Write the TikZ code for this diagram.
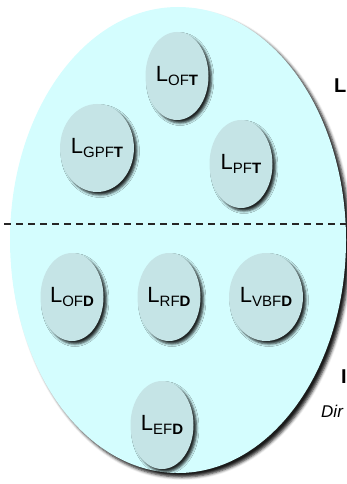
\documentclass[tikz,border=0pt]{standalone}
\usepackage{fontspec}
\setmainfont{Liberation Sans}
\usetikzlibrary{shapes.geometric,shadows.blur}
\definecolor{bigfill}{HTML}{D4FDFE}
\definecolor{smallfill}{HTML}{C5E4E6}
\newcommand\elab[2]{{\fontsize{22}{24}\selectfont L\raisebox{-4pt}{\fontsize{15}{16}\selectfont #1\textbf{#2}}}}
\tikzset{
  outerset/.style={ellipse, inner sep=0pt, fill=bigfill,
    minimum width=336pt, minimum height=466pt,
    blur shadow={shadow xshift=4pt, shadow yshift=-4pt, shadow blur radius=3pt, shadow opacity=90}},
  leaf/.style={ellipse, inner sep=0pt, fill=smallfill,
    minimum width=63pt, minimum height=88pt,
    blur shadow={shadow xshift=3pt, shadow yshift=-3pt, shadow blur radius=2.5pt, shadow opacity=85}},
  sidelab/.style={inner sep=0pt, anchor=base west, font=\fontsize{20}{22}\selectfont\bfseries},
  sidesub/.style={inner sep=0pt, anchor=base west, font=\fontsize{17}{20}\selectfont\itshape},
  divider/.style={line width=1.3pt, dash pattern=on 7pt off 5pt, black!85}
}
\begin{document}
\begin{tikzpicture}[x=1pt,y=-1pt]
\useasboundingbox (0,0) rectangle (347,484);
\node[outerset] (outer) at (178,240) {};
\coordinate (dl) at (4,224);
\coordinate (dr) at (347,224);
\draw[divider] (dl) -- (dr);
\node[leaf] (oft) at (177,76) {\elab{OF}{T}};
\node[leaf] (gpft) at (97,148) {\elab{GPF}{T}};
\node[leaf] (pft) at (241,164) {\elab{PF}{T}};
\node[leaf] (ofd) at (72,297) {\elab{OF}{D}};
\node[leaf] (rfd) at (169,297) {\elab{RF}{D}};
\node[leaf] (vbfd) at (266,297) {\elab{VBF}{D}};
\node[leaf] (efd) at (162,425) {\elab{EF}{D}};
\node[sidelab] (tlab) at (334,93) {L};
\node[sidelab] (dlab) at (341,383) {I};
\node[sidesub] (dsub) at (321,417) {Dir};
\end{tikzpicture}
\end{document}
